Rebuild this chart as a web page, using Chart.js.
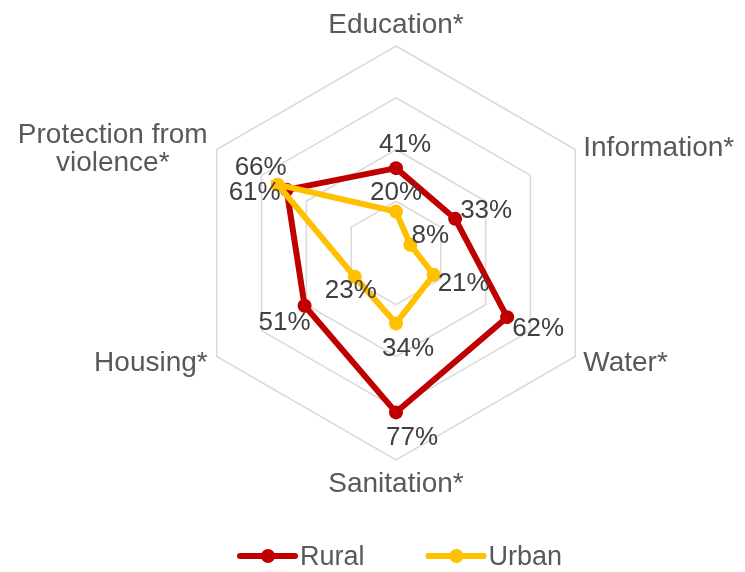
<!DOCTYPE html>
<html>
<head>
<meta charset="utf-8">
<script src="https://cdn.jsdelivr.net/npm/chart.js@4/dist/chart.umd.min.js"></script>
<style>
	body { margin: 0; background: #fff; }
	#wrap { width: 745px; height: 572px; position: relative; }
</style>
</head>
<body>
<div id="wrap"><canvas id="radar"></canvas></div>
<script>
const categories = ['Education*', 'Information*', 'Water*', 'Sanitation*', 'Housing*', ['Protection from', 'violence*']];
const seriesNames = ['Rural', 'Urban'];
const ruralValues = [41, 33, 62, 77, 51, 61];
const urbanValues = [20, 8, 21, 34, 23, 66];
const scaleTicks = [0, 25, 50, 75, 100];

const FONT = '"Liberation Sans", Arial, sans-serif';
const RED = '#c00000';
const GOLD = '#ffc000';

// where each axis title sits relative to its outer vertex (x offset, baseline offset)
const axisLabelPlace = [
	{ align: 'center', dx: 0, dy: -13 },
	{ align: 'left', dx: 8, dy: 6 },
	{ align: 'left', dx: 8, dy: 14 },
	{ align: 'center', dx: 0, dy: 32 },
	{ align: 'right', dx: -9, dy: 14 },
	{ align: 'center', dx: -104, dy: -7 },
];

// value label offsets from each point (text centre x, baseline y)
const valueLabelPlace = [
	[[9, -16], [31, -1], [31, 19], [16, 33], [-20, 24], [-32, 10]],
	[[0, -12], [20, -2], [30, 16], [12, 33], [-4, 21], [-17, -10]],
];

const axisLabels = {
	id: 'axisLabels',
	afterDraw(chart) {
		const { ctx } = chart;
		const scale = chart.scales.r;
		ctx.save();
		ctx.font = '28px ' + FONT;
		ctx.fillStyle = '#595959';
		ctx.textBaseline = 'alphabetic';
		categories.forEach((cat, i) => {
			const p = scale.getPointPosition(i, scale.drawingArea);
			const place = axisLabelPlace[i];
			const lines = Array.isArray(cat) ? cat : [cat];
			ctx.textAlign = place.align;
			lines.forEach((line, k) => ctx.fillText(line, p.x + place.dx, p.y + place.dy + k * 28));
		});
		ctx.restore();
	},
};

const valueLabels = {
	id: 'valueLabels',
	afterDatasetsDraw(chart) {
		const { ctx } = chart;
		ctx.save();
		ctx.font = '26px ' + FONT;
		ctx.fillStyle = '#404040';
		ctx.textAlign = 'center';
		ctx.textBaseline = 'alphabetic';
		chart.data.datasets.forEach((ds, d) => {
			const meta = chart.getDatasetMeta(d);
			meta.data.forEach((pt, i) => {
				const [dx, dy] = valueLabelPlace[d][i];
				ctx.fillText(ds.data[i] + '%', pt.x + dx, pt.y + dy);
			});
		});
		ctx.restore();
	},
};

const lineLegend = {
	id: 'lineLegend',
	afterDraw(chart) {
		const { ctx } = chart;
		const y = 556;
		let x = 240;
		ctx.save();
		ctx.font = '27px ' + FONT;
		ctx.textBaseline = 'middle';
		ctx.textAlign = 'left';
		chart.data.datasets.forEach((ds) => {
			ctx.strokeStyle = ds.borderColor;
			ctx.lineWidth = 6;
			ctx.lineCap = 'round';
			ctx.beginPath();
			ctx.moveTo(x, y);
			ctx.lineTo(x + 55, y);
			ctx.stroke();
			ctx.fillStyle = ds.borderColor;
			ctx.beginPath();
			ctx.arc(x + 28, y, 7, 0, Math.PI * 2);
			ctx.fill();
			ctx.fillStyle = '#595959';
			ctx.fillText(ds.label, x + 60, y + 2);
			x += 60 + ctx.measureText(ds.label).width + 64;
		});
		ctx.restore();
	},
};

const makeSeries = (label, data, color, order) => ({
	label,
	data,
	order,
	borderColor: color,
	backgroundColor: color,
	borderWidth: 6,
	fill: false,
	tension: 0,
	pointRadius: 7,
	pointBorderWidth: 0,
	pointBackgroundColor: color,
	pointHoverRadius: 7,
});

new Chart(document.getElementById('radar'), {
	type: 'radar',
	data: {
		labels: categories,
		datasets: [
			makeSeries(seriesNames[0], ruralValues, RED, 1),
			makeSeries(seriesNames[1], urbanValues, GOLD, 0),
		],
	},
	options: {
		responsive: true,
		maintainAspectRatio: false,
		animation: false,
		layout: { padding: { left: 189, right: 142, top: 46, bottom: 112 } },
		plugins: { legend: { display: false }, tooltip: { enabled: false } },
		scales: {
			r: {
				min: scaleTicks[0],
				max: scaleTicks[scaleTicks.length - 1],
				ticks: { display: false, stepSize: scaleTicks[1] - scaleTicks[0] },
				grid: { color: '#d9d9d9', lineWidth: 1.5 },
				angleLines: { display: false },
				pointLabels: { display: false },
			},
		},
	},
	plugins: [axisLabels, valueLabels, lineLegend],
});
</script>
</body>
</html>
